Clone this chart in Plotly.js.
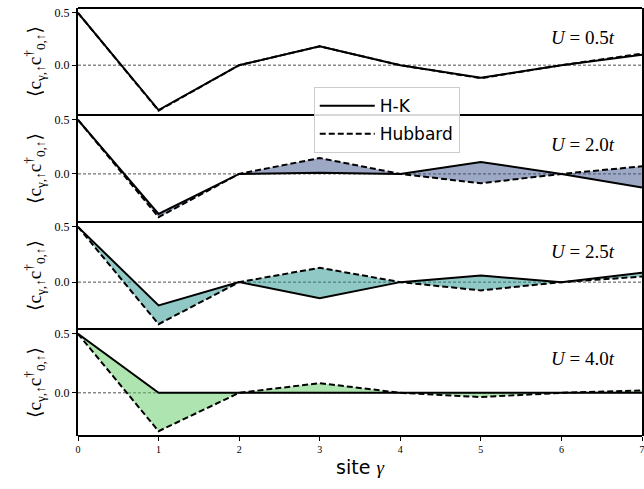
<!DOCTYPE html>
<html>
<head>
<meta charset="utf-8">
<script src="https://cdn.plot.ly/plotly-3.0.1.min.js"></script>
<style>html,body{margin:0;padding:0;background:#fff;}#chart{width:644px;height:489px;}</style>
</head>
<body>
<div id="chart"></div>
<script>
var sites = [0, 1, 2, 3, 4, 5, 6, 7];
var uLabels = ["0.5", "2.0", "2.5", "4.0"];
var hk_05  = [0.5, -0.43, 0.0, 0.18, 0.0, -0.12, 0.0, 0.10];
var hub_05 = [0.5, -0.435, 0.0, 0.18, 0.0, -0.125, 0.0, 0.11];
var hk_20  = [0.5, -0.37, 0.0, 0.01, 0.0, 0.11, 0.0, -0.125];
var hub_20 = [0.5, -0.40, 0.0, 0.147, 0.0, -0.087, 0.0, 0.07];
var hk_25  = [0.5, -0.21, 0.0, -0.145, 0.0, 0.06, 0.0, 0.085];
var hub_25 = [0.5, -0.38, 0.0, 0.13, 0.0, -0.075, 0.0, 0.05];
var hk_40  = [0.5, 0.0, 0.0, 0.0, 0.0, 0.0, 0.0, 0.0];
var hub_40 = [0.5, -0.325, 0.0, 0.082, 0.0, -0.036, 0.0, 0.02];
var seriesHK  = [hk_05, hk_20, hk_25, hk_40];
var seriesHub = [hub_05, hub_20, hub_25, hub_40];
var fillColors = ["rgba(68,1,84,0.5)", "rgba(59,82,139,0.5)", "rgba(33,145,140,0.5)", "rgba(94,201,98,0.5)"];
var yRanges = [[-0.477, 0.547], [-0.445, 0.545], [-0.424, 0.544], [-0.366, 0.541]];

var serif = "Liberation Serif, DejaVu Serif, serif";
var sans = "DejaVu Sans, sans-serif";
var traces = [];
var layout = {
  width: 644, height: 489,
  margin: {l: 78, r: 2, t: 8, b: 53},
  paper_bgcolor: "#fff", plot_bgcolor: "#fff",
  showlegend: true,
  legend: {x: 0.418, y: 0.815, xanchor: "left", yanchor: "top", traceorder: "grouped", tracegroupgap: 3,
           itemwidth: 55,
           bgcolor: "rgba(255,255,255,0.85)", bordercolor: "#cccccc", borderwidth: 1,
           font: {family: sans, size: 17, color: "#000"}},
  shapes: [], annotations: []
};
var ytitle = "⟨c<sub>γ,↑</sub>c<sup>†</sup><sub>0,↑</sub>⟩";
for (var i = 0; i < 4; i++) {
  var n = i + 1;
  var xa = "x" + (n === 1 ? "" : n), ya = "y" + (n === 1 ? "" : n);
  var xk = "xaxis" + (n === 1 ? "" : n), yk = "yaxis" + (n === 1 ? "" : n);
  var dTop = 1 - i * 0.25, dBot = 1 - (i + 1) * 0.25;
  traces.push({x: sites, y: seriesHub[i], xaxis: xa, yaxis: ya, mode: "lines", name: "Hubbard",
    line: {color: "#000", width: 2, dash: "6px,3px"}, showlegend: false, hoverinfo: "skip"});
  traces.push({x: sites, y: seriesHK[i], xaxis: xa, yaxis: ya, mode: "lines", name: "H-K",
    line: {color: "#000", width: 2}, fill: "tonexty", fillcolor: fillColors[i], showlegend: false, hoverinfo: "skip"});
  layout[xk] = {domain: [0, 1], range: [0, 7], anchor: ya, showline: false,
    showgrid: false, zeroline: false, tickvals: sites, ticktext: sites.map(String),
    showticklabels: i === 3, ticks: i === 3 ? "outside" : "", ticklen: 4, tickwidth: 1, tickcolor: "#000",
    ticklabeloverflow: "allow",
    tickfont: {family: serif, size: 10, color: "#000"}};
  if (i > 0) layout[xk].matches = "x";
  if (i === 3) {
    layout[xk].title = {text: "site <span style=\"font-family:" + serif + "\"><i>γ</i></span>",
      font: {family: sans, size: 19, color: "#000"}, standoff: 6};
  }
  layout[yk] = {domain: [dBot, dTop], range: yRanges[i], anchor: xa, showline: true, mirror: true, linecolor: "#000", linewidth: 2,
    showgrid: false, zeroline: false, tickvals: [-0.5, 0, 0.5], ticktext: ["−0.5", "0.0", "0.5"],
    ticks: "outside", ticklen: 4, tickwidth: 1, tickcolor: "#000",
    tickfont: {family: serif, size: 12, color: "#000"},
    title: {text: ytitle, font: {family: serif, size: 19, color: "#000"}, standoff: 8}};
  layout.shapes.push({type: "line", xref: xa + " domain", yref: ya, x0: 0, x1: 1, y0: 0, y1: 0,
    line: {color: "#222", width: 0.8, dash: "3px,2px"}, layer: "below"});
  layout.annotations.push({xref: xa + " domain", yref: ya + " domain", x: 0.955, y: 0.72, xanchor: "right", yanchor: "middle",
    showarrow: false, text: "<i>U</i> = " + uLabels[i] + "<i>t</i>", font: {family: serif, size: 19, color: "#000"}});
}
for (var k = 0; k <= 4; k++) {
  layout.shapes.push({type: "line", xref: "paper", yref: "paper", x0: 0, x1: 1, y0: k * 0.25, y1: k * 0.25,
    line: {color: "#000", width: 2}, layer: "above"});
}
traces.push({x: [null], y: [null], xaxis: "x", yaxis: "y", mode: "lines", name: "H-K", legendgroup: "a",
  line: {color: "#000", width: 2}, showlegend: true});
traces.push({x: [null], y: [null], xaxis: "x", yaxis: "y", mode: "lines", name: "Hubbard", legendgroup: "b",
  line: {color: "#000", width: 2, dash: "6px,3px"}, showlegend: true});
Plotly.newPlot("chart", traces, layout, {displayModeBar: false, staticPlot: true});
</script>
</body>
</html>
